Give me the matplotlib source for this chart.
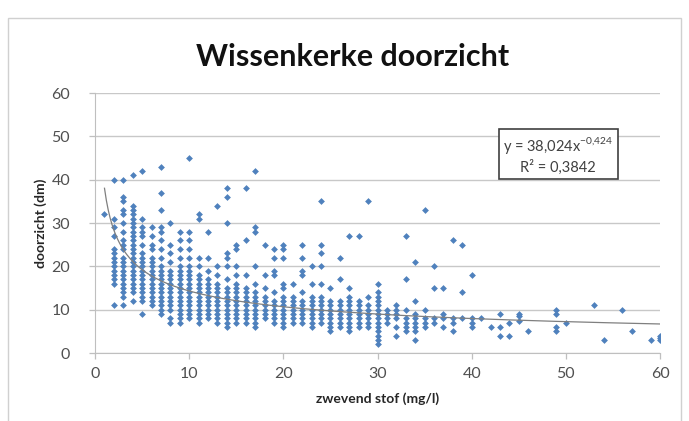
"""
Wissenkerke: doorzicht tegen zwevend stof, met machtstrendlijn
"""
import numpy as np
import matplotlib.pyplot as plt
from matplotlib.patches import Rectangle

# zwevend stof (mg/l) per kolom en de bijbehorende doorzicht-waarden (dm)
stof_kolommen = [1, 2, 3, 4, 5, 6, 7, 8, 9, 10,
                 11, 12, 13, 14, 15, 16, 17, 18, 19, 20,
                 21, 22, 23, 24, 25, 26, 27, 28, 29, 30,
                 31, 32, 33, 34, 35, 36, 37, 38, 39, 40,
                 41, 42, 43, 44, 45, 46, 49, 50, 53, 54,
                 56, 57, 59, 60]
doorzicht_kolommen = [
    [32],
    [40, 31, 29, 27, 24, 23, 22, 21, 20, 19, 18, 17, 16, 11],
    [40, 36, 35, 33, 32, 30, 28, 26, 25, 24, 22, 21, 20, 19, 18, 17, 16, 15, 14, 13, 11],
    [41, 34, 33, 32, 31, 30, 29, 28, 27, 26, 25, 24, 23, 22, 21, 20, 19, 18, 17, 16, 15, 14, 12],
    [42, 31, 29, 28, 27, 25, 23, 22, 21, 20, 19, 18, 17, 16, 15, 14, 13, 12, 9],
    [29, 27, 25, 24, 22, 21, 20, 19, 18, 17, 16, 15, 14, 13, 12, 11],
    [43, 37, 33, 29, 28, 26, 24, 22, 20, 19, 18, 17, 16, 15, 14, 13, 12, 11, 10, 9],
    [30, 25, 23, 21, 19, 18, 17, 16, 15, 14, 13, 12, 11, 10, 8, 7],
    [28, 26, 24, 22, 20, 19, 18, 17, 16, 15, 14, 13, 12, 11, 10, 9, 8, 7],
    [45, 28, 26, 24, 22, 20, 19, 18, 17, 16, 15, 14, 13, 12, 11, 10, 9, 8],
    [32, 31, 22, 20, 18, 17, 16, 15, 14, 13, 12, 11, 10, 9, 8, 7],
    [28, 22, 19, 17, 16, 15, 14, 13, 12, 11, 10, 9, 8],
    [34, 20, 18, 16, 15, 14, 13, 12, 11, 10, 9, 8, 7],
    [38, 36, 30, 23, 22, 20, 17, 15, 14, 13, 12, 11, 10, 9, 8, 7, 6],
    [25, 24, 20, 18, 16, 15, 14, 13, 12, 11, 10, 9, 8, 7],
    [38, 26, 18, 15, 14, 13, 12, 11, 10, 9, 8, 7],
    [42, 29, 28, 20, 16, 14, 13, 12, 11, 10, 9, 8, 7, 6],
    [25, 18, 15, 13, 12, 11, 10, 9, 8],
    [24, 22, 19, 18, 14, 12, 11, 10, 9, 8, 7],
    [25, 24, 22, 16, 15, 13, 12, 11, 10, 9, 8, 7, 6],
    [16, 13, 12, 11, 10, 9, 8, 7],
    [25, 22, 19, 18, 14, 12, 11, 10, 9, 8, 7],
    [20, 16, 13, 12, 11, 10, 9, 8, 7, 6],
    [35, 25, 23, 20, 16, 13, 12, 11, 10, 9, 8, 7],
    [15, 12, 11, 10, 9, 8, 7, 6, 5],
    [22, 17, 12, 11, 10, 9, 8, 7, 6],
    [27, 15, 13, 12, 11, 10, 9, 8, 7, 6, 5],
    [27, 12, 11, 10, 9, 8, 7, 6],
    [35, 13, 11, 10, 9, 8, 7, 6],
    [16, 14, 13, 12, 11, 10, 9, 8, 7, 6, 5, 4, 3, 2],
    [10, 9, 8, 7],
    [11, 10, 9, 8, 6, 4],
    [27, 17, 10, 8, 7, 6, 5],
    [21, 12, 9, 8, 7, 6, 5, 3],
    [33, 10, 8, 7, 6],
    [20, 15, 8, 7],
    [15, 9, 8, 6],
    [26, 8, 7, 5],
    [25, 14, 8],
    [18, 8, 7, 6],
    [8],
    [6],
    [9, 6, 4],
    [7, 4],
    [9, 8.5, 7.5],
    [5],
    [10, 9, 6, 5],
    [7],
    [11],
    [3],
    [10],
    [5],
    [3],
    [4, 3.5, 3],
]

# trendlijn (zoals door Excel gegeven)
trend_a = 38.024
trend_b = -0.424
trend_tekst = "y = 38,024x$^{\\mathregular{-0{,}424}}$\nR² = 0,3842"

x_ticks = [0, 10, 20, 30, 40, 50, 60]
y_ticks = [0, 10, 20, 30, 40, 50, 60]


def main():
    plt.rcParams["font.family"] = ["Lato", "DejaVu Sans"]
    plt.rcParams["mathtext.fontset"] = "custom"
    plt.rcParams["mathtext.rm"] = "Lato"
    grijs = "#505050"

    stof = np.concatenate([[x] * len(ys) for x, ys in zip(stof_kolommen, doorzicht_kolommen)])
    doorzicht = np.concatenate(doorzicht_kolommen)

    fig = plt.figure(figsize=(6.89, 4.21), dpi=100)
    ax = fig.add_axes([0.138, 0.1615, 0.82, 0.6175])

    # kaderrand van de grafiek
    fig.patches.append(Rectangle((8 / 689, -0.01), 673 / 689, 1.01 - 18 / 421,
                                 transform=fig.transFigure, fill=False,
                                 edgecolor="#d0d0d0", linewidth=1.0))

    ax.scatter(stof, doorzicht, s=12, marker="D", color="#4F81BD", linewidths=0, zorder=3)

    xt = np.linspace(1, 60, 300)
    ax.plot(xt, trend_a * xt ** trend_b, color="#7f7f7f", linewidth=0.9, zorder=4)

    ax.set_xlim(0, 60)
    ax.set_ylim(0, 60)
    ax.set_xticks(x_ticks)
    ax.set_yticks(y_ticks)
    ax.tick_params(axis="both", colors="#bfbfbf", labelcolor=grijs, labelsize=11.5,
                   length=4, width=0.9)
    ax.tick_params(axis="x", pad=6)
    ax.tick_params(axis="y", pad=14)
    ax.grid(axis="y", color="#c8c8c8", linewidth=1.0)
    ax.set_axisbelow(True)
    for side in ("top", "right"):
        ax.spines[side].set_visible(False)
    for side in ("left", "bottom"):
        ax.spines[side].set_color("#bfbfbf")

    ax.set_xlabel("zwevend stof (mg/l)", fontsize=10, fontweight="bold", color="#262626",
                  labelpad=8)
    ax.set_ylabel("doorzicht (dm)", fontsize=10, fontweight="bold", color="#262626",
                  labelpad=3)
    fig.text(0.512, 0.865, "Wissenkerke doorzicht", ha="center", va="center",
             fontsize=22, fontweight="bold", color="#111111")

    ax.text(49.2, 45.7, trend_tekst, ha="center", va="center", fontsize=10.5,
            color="#404040", linespacing=1.3, zorder=5,
            bbox=dict(boxstyle="square,pad=0.3", facecolor="white",
                      edgecolor="#404040", linewidth=1.2))

    fig.savefig("out.png", dpi=100)


if __name__ == "__main__":
    main()
